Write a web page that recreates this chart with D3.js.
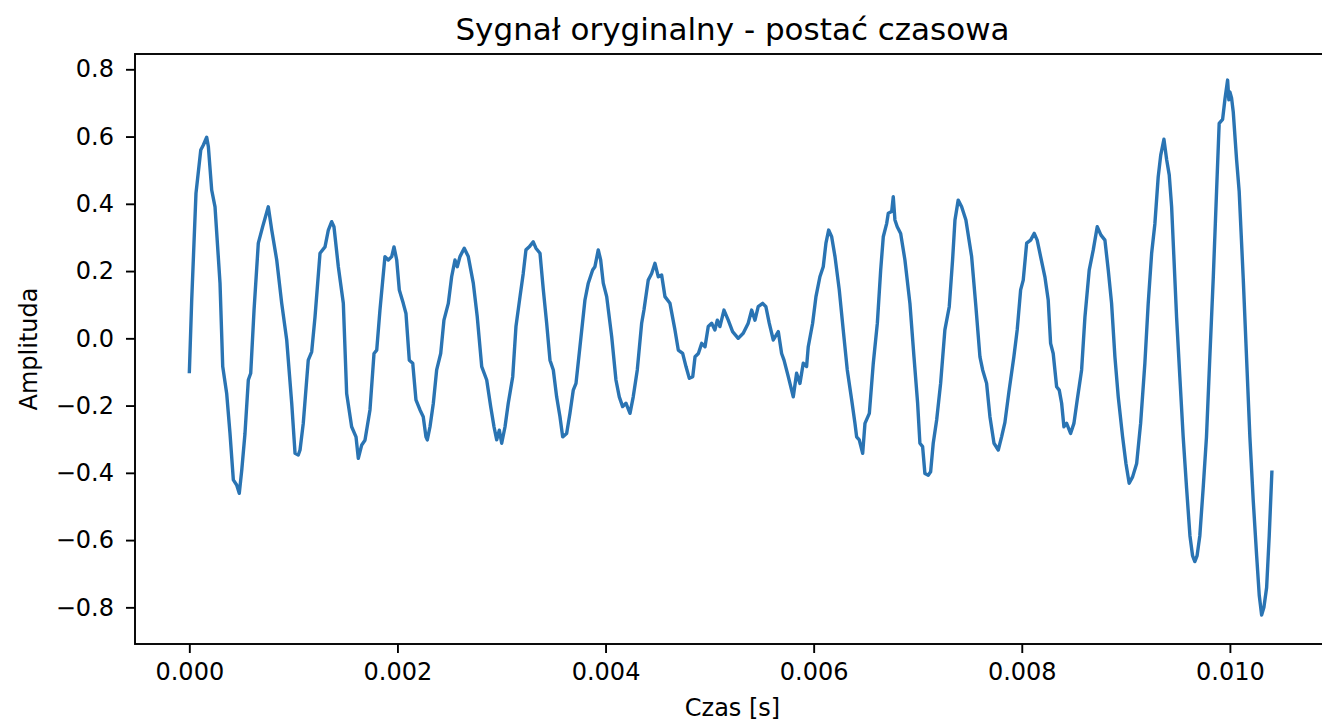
<!DOCTYPE html>
<html>
<head>
<meta charset="utf-8">
<script src="https://cdn.jsdelivr.net/npm/d3@7"></script>
<style>
  body { margin: 0; background: #ffffff; }
  svg { display: block; }
  text { font-family: "DejaVu Sans", sans-serif; fill: #000; }
</style>
</head>
<body>
<svg id="chart" width="1322" height="724"></svg>
<script>
// Texts
const chartTitle = "Sygnał oryginalny - postać czasowa";
const xLabel = "Czas [s]";
const yLabel = "Amplituda";

// Tick values
const xTicks = [0, 0.002, 0.004, 0.006, 0.008, 0.010];
const yTicks = [-0.8, -0.6, -0.4, -0.2, 0.0, 0.2, 0.4, 0.6, 0.8];

// Sample times in milliseconds
const timeMs = [
  0.000, 0.023, 0.064, 0.110, 0.135, 0.167, 0.183, 0.215, 0.247, 0.295,
  0.321, 0.359, 0.391, 0.423, 0.455, 0.480, 0.504, 0.535, 0.567, 0.590,
  0.622, 0.663, 0.705, 0.759, 0.792, 0.840, 0.888, 0.936, 0.984, 1.016,
  1.047, 1.064, 1.095, 1.143, 1.176, 1.208, 1.256, 1.304, 1.336, 1.368,
  1.390, 1.432, 1.480, 1.512, 1.560, 1.602, 1.624, 1.657, 1.688, 1.736,
  1.775, 1.801, 1.832, 1.880, 1.912, 1.945, 1.967, 1.993, 2.018, 2.056,
  2.082, 2.114, 2.147, 2.178, 2.217, 2.248, 2.274, 2.287, 2.313, 2.345,
  2.377, 2.416, 2.447, 2.489, 2.521, 2.553, 2.575, 2.601, 2.642, 2.681,
  2.729, 2.767, 2.810, 2.858, 2.896, 2.928, 2.954, 2.979, 3.002, 3.034,
  3.065, 3.108, 3.139, 3.178, 3.209, 3.235, 3.267, 3.305, 3.331, 3.370,
  3.402, 3.434, 3.466, 3.498, 3.530, 3.562, 3.588, 3.626, 3.658, 3.690,
  3.716, 3.754, 3.802, 3.834, 3.876, 3.898, 3.930, 3.953, 3.978, 4.011,
  4.059, 4.100, 4.132, 4.164, 4.196, 4.235, 4.266, 4.305, 4.347, 4.369,
  4.410, 4.443, 4.475, 4.507, 4.539, 4.571, 4.619, 4.667, 4.699, 4.741,
  4.773, 4.805, 4.838, 4.860, 4.892, 4.924, 4.956, 4.987, 5.020, 5.051,
  5.074, 5.099, 5.138, 5.179, 5.221, 5.275, 5.323, 5.371, 5.404, 5.436,
  5.467, 5.510, 5.541, 5.573, 5.612, 5.660, 5.692, 5.715, 5.756, 5.804,
  5.836, 5.868, 5.900, 5.932, 5.948, 5.990, 6.022, 6.060, 6.092, 6.118,
  6.144, 6.173, 6.205, 6.246, 6.284, 6.323, 6.365, 6.397, 6.413, 6.438,
  6.471, 6.493, 6.535, 6.573, 6.612, 6.644, 6.669, 6.702, 6.717, 6.750,
  6.765, 6.781, 6.803, 6.836, 6.877, 6.925, 6.964, 6.999, 7.021, 7.047,
  7.069, 7.101, 7.124, 7.149, 7.182, 7.220, 7.261, 7.303, 7.335, 7.358,
  7.389, 7.422, 7.463, 7.518, 7.559, 7.598, 7.624, 7.662, 7.694, 7.733,
  7.774, 7.806, 7.838, 7.876, 7.924, 7.956, 7.989, 8.014, 8.047, 8.085,
  8.120, 8.148, 8.181, 8.222, 8.254, 8.277, 8.302, 8.335, 8.360, 8.383,
  8.405, 8.431, 8.469, 8.501, 8.533, 8.575, 8.607, 8.648, 8.687, 8.725,
  8.761, 8.799, 8.831, 8.863, 8.895, 8.927, 8.969, 9.001, 9.032, 9.065,
  9.104, 9.142, 9.183, 9.215, 9.248, 9.279, 9.311, 9.335, 9.366, 9.392,
  9.417, 9.440, 9.488, 9.519, 9.551, 9.584, 9.616, 9.641, 9.663, 9.685,
  9.711, 9.743, 9.775, 9.807, 9.840, 9.872, 9.897, 9.930, 9.952, 9.978,
  9.990, 10.000, 10.016, 10.032, 10.064, 10.089, 10.128, 10.160, 10.192, 10.224,
  10.257, 10.282, 10.305, 10.327, 10.353, 10.378, 10.404
];

// Signal amplitude at each sample time
const amplitude = [
  -0.104, 0.114, 0.431, 0.560, 0.575, 0.598, 0.570, 0.441, 0.391, 0.164,
  -0.084, -0.164, -0.283, -0.421, -0.436, -0.461, -0.392, -0.283, -0.124, -0.104,
  0.084, 0.283, 0.332, 0.391, 0.322, 0.233, 0.104, -0.005, -0.193, -0.342,
  -0.347, -0.332, -0.253, -0.065, -0.040, 0.064, 0.253, 0.272, 0.322, 0.347,
  0.332, 0.213, 0.104, -0.164, -0.263, -0.293, -0.357, -0.317, -0.303, -0.213,
  -0.045, -0.035, 0.084, 0.243, 0.233, 0.243, 0.272, 0.233, 0.144, 0.104,
  0.074, -0.065, -0.074, -0.183, -0.213, -0.233, -0.293, -0.302, -0.263, -0.193,
  -0.094, -0.045, 0.054, 0.104, 0.183, 0.233, 0.213, 0.243, 0.268, 0.243,
  0.164, 0.064, -0.084, -0.124, -0.203, -0.263, -0.302, -0.273, -0.312, -0.263,
  -0.193, -0.114, 0.035, 0.124, 0.193, 0.263, 0.272, 0.287, 0.268, 0.253,
  0.144, 0.045, -0.065, -0.094, -0.174, -0.233, -0.293, -0.283, -0.223, -0.154,
  -0.134, -0.025, 0.114, 0.164, 0.203, 0.213, 0.263, 0.233, 0.164, 0.124,
  0.005, -0.124, -0.174, -0.203, -0.193, -0.223, -0.174, -0.094, 0.045, 0.084,
  0.173, 0.193, 0.223, 0.183, 0.188, 0.124, 0.104, 0.025, -0.035, -0.045,
  -0.084, -0.119, -0.114, -0.055, -0.045, -0.015, -0.025, 0.035, 0.045, 0.025,
  0.054, 0.035, 0.084, 0.054, 0.020, 0.000, 0.015, 0.045, 0.084, 0.054,
  0.094, 0.104, 0.094, 0.045, -0.005, 0.020, -0.045, -0.065, -0.114, -0.174,
  -0.104, -0.134, -0.074, -0.084, -0.025, 0.045, 0.124, 0.183, 0.213, 0.283,
  0.322, 0.302, 0.243, 0.144, 0.025, -0.094, -0.183, -0.253, -0.293, -0.302,
  -0.342, -0.253, -0.223, -0.074, 0.045, 0.203, 0.302, 0.342, 0.372, 0.377,
  0.421, 0.352, 0.332, 0.312, 0.233, 0.104, -0.055, -0.193, -0.312, -0.322,
  -0.402, -0.407, -0.397, -0.312, -0.243, -0.134, 0.025, 0.094, 0.233, 0.352,
  0.411, 0.391, 0.352, 0.243, 0.094, -0.055, -0.094, -0.134, -0.233, -0.312,
  -0.332, -0.293, -0.250, -0.160, -0.055, 0.025, 0.144, 0.173, 0.283, 0.292,
  0.312, 0.292, 0.243, 0.183, 0.114, -0.015, -0.045, -0.144, -0.154, -0.193,
  -0.263, -0.253, -0.283, -0.253, -0.183, -0.094, 0.064, 0.203, 0.263, 0.332,
  0.307, 0.292, 0.203, 0.104, -0.055, -0.174, -0.293, -0.372, -0.431, -0.412,
  -0.372, -0.253, -0.074, 0.104, 0.253, 0.340, 0.480, 0.544, 0.592, 0.532,
  0.486, 0.391, 0.061, -0.115, -0.293, -0.446, -0.587, -0.646, -0.664, -0.646,
  -0.587, -0.446, -0.293, -0.057, 0.179, 0.438, 0.639, 0.651, 0.710, 0.768,
  0.709, 0.733, 0.715, 0.674, 0.532, 0.438, 0.179, -0.057, -0.293, -0.481,
  -0.646, -0.764, -0.823, -0.800, -0.741, -0.587, -0.393
];

// Build the series (time in seconds)
const series = timeMs.map((ms, i) => ({ t: ms / 1000, v: amplitude[i] }));

const svg = d3.select("#chart");

// Axes box
const box = { left: 135, right: 1330, top: 54, bottom: 644 };

const x = d3.scaleLinear()
  .domain([-0.000522, 0.010962])
  .range([box.left, box.right]);

const y = d3.scaleLinear()
  .domain([-0.909, 0.8455])
  .range([box.bottom, box.top]);

// Signal line, clipped to the axes box
svg.append("clipPath").attr("id", "plot-clip")
  .append("rect")
  .attr("x", box.left).attr("y", box.top)
  .attr("width", box.right - box.left).attr("height", box.bottom - box.top);

const line = d3.line().x(d => x(d.t)).y(d => y(d.v));

svg.append("path")
  .datum(series)
  .attr("clip-path", "url(#plot-clip)")
  .attr("fill", "none")
  .attr("stroke", "#2a74b3")
  .attr("stroke-width", 3.4)
  .attr("stroke-linejoin", "round")
  .attr("stroke-linecap", "butt")
  .attr("d", line);

// Frame
svg.append("rect")
  .attr("x", box.left).attr("y", box.top)
  .attr("width", box.right - box.left).attr("height", box.bottom - box.top)
  .attr("fill", "none")
  .attr("stroke", "#000")
  .attr("stroke-width", 1.9);

// X axis
const xAxis = svg.append("g")
  .attr("transform", `translate(0,${box.bottom})`)
  .call(d3.axisBottom(x)
    .tickValues(xTicks)
    .tickFormat(d3.format(".3f"))
    .tickSize(9)
    .tickPadding(10));
xAxis.select(".domain").remove();
xAxis.selectAll(".tick line").attr("stroke", "#000").attr("stroke-width", 1.9);
xAxis.selectAll(".tick text")
  .attr("font-family", "DejaVu Sans, sans-serif")
  .attr("font-size", 24).attr("fill", "#000");

// Y axis
const yAxis = svg.append("g")
  .attr("transform", `translate(${box.left},0)`)
  .call(d3.axisLeft(y)
    .tickValues(yTicks)
    .tickFormat(d3.format(".1f"))
    .tickSize(9)
    .tickPadding(12));
yAxis.select(".domain").remove();
yAxis.selectAll(".tick line").attr("stroke", "#000").attr("stroke-width", 1.9);
yAxis.selectAll(".tick text")
  .attr("font-family", "DejaVu Sans, sans-serif")
  .attr("font-size", 24).attr("fill", "#000");

// Title and axis labels
svg.append("text")
  .attr("x", (box.left + box.right) / 2)
  .attr("y", 40)
  .attr("text-anchor", "middle")
  .attr("font-size", 31)
  .text(chartTitle);

svg.append("text")
  .attr("x", (box.left + box.right) / 2)
  .attr("y", 716)
  .attr("text-anchor", "middle")
  .attr("font-size", 24)
  .text(xLabel);

svg.append("text")
  .attr("transform", `translate(37,${(box.top + box.bottom) / 2}) rotate(-90)`)
  .attr("text-anchor", "middle")
  .attr("font-size", 24)
  .text(yLabel);
</script>
</body>
</html>
